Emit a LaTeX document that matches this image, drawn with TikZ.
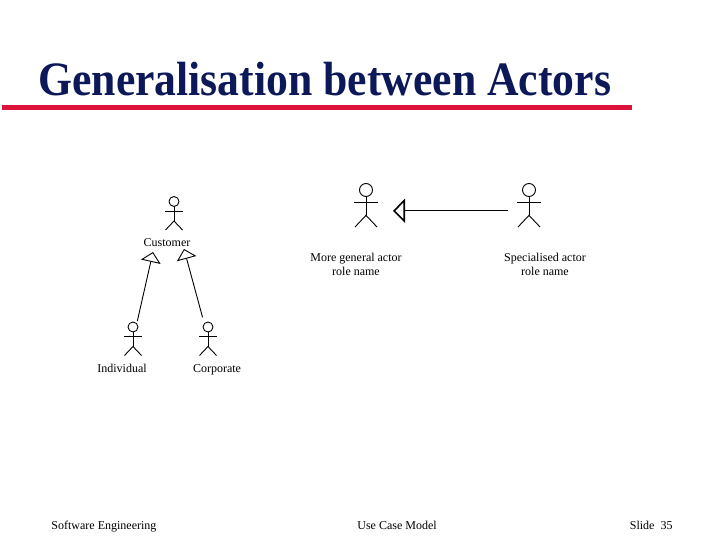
\documentclass[tikz,border=0pt]{standalone}
\usepackage{fontspec}
\setmainfont{Liberation Serif}
\usetikzlibrary{arrows.meta}
\usetikzlibrary{positioning}
\definecolor{titleblue}{RGB}{12,24,88}
\definecolor{rulered}{RGB}{220,20,60}
\tikzset{stickman/.pic = {\node [circle, draw, transform shape, inner sep = 0, minimum size = 10] (-head) at (0, 0) {};
                          \draw (-head.south) -- (0, 19.5) coordinate (-hip);
                          \draw (-9, 9.5) -- (9, 9.5);
                          \coordinate (-waist) at (0, 16);
                          \draw (-8.5, 28.5) -- (-hip) -- (8.5, 28.5);}}
\tikzset{rolename/.style = {font = \fontsize{12}{14}\selectfont, align = center, inner sep = 0}}
\tikzset{generalise/.style = {-{Triangle[open, length = 10pt, width = 20pt]}}}
\tikzset{bigarrow/.style = {-{Triangle[open, length = 12pt, width = 24pt, line width = 1.6pt]}}}

\begin{document}
\begin{tikzpicture}[x = 1pt, y = -1pt, line width = 0.9pt]
    \useasboundingbox (0, 0) rectangle (720, 540);

    % title
    \node [anchor = base west, inner sep = 0, text = titleblue,
           font = \fontsize{48}{50}\selectfont\bfseries, xscale = 0.91] (title) at (38, 96) {Generalisation between Actors};
    \fill [rulered] (2, 105) rectangle (632, 110);

    % left: customer hierarchy
    \pic (cust) at (174, 201.5) {stickman};
    \pic (indiv) at (133, 327) {stickman};
    \pic (corp) at (208, 327) {stickman};
    \node [rolename, anchor = base] (custname) at (167, 246) {Customer};
    \node [rolename, anchor = base] (indivname) at (122, 372) {Individual};
    \node [rolename, anchor = base] (corpname) at (217, 372) {Corporate};
    \coordinate (custl) at (153, 252);
    \coordinate (custr) at (184, 249);

    \draw [generalise, shorten <= 2pt] (indiv-head.north east) -- (custl);
    \draw [generalise, shorten <= 6pt] (corp-head.north west) -- (custr);

    % right: general and specialised role
    \pic [scale = 1.3] (general) at (366, 190) {stickman};
    \pic [scale = 1.3] (special) at (529, 190) {stickman};
    \node [rolename] (generalname) at (356, 264.5) {More general actor\\role name};
    \node [rolename] (specialname) at (545, 264.5) {Specialised actor\\role name};

    \draw [bigarrow, shorten <= 21pt, shorten >= 27pt] (special-waist) -- (general-waist);

    % footer
    \node [rolename, anchor = base west] (footl) at (51, 529) {Software Engineering};
    \node [rolename, anchor = base] (footm) at (397, 529) {Use Case Model};
    \node [rolename, anchor = base east] (footr) at (673, 529) {Slide\ \ 35};
\end{tikzpicture}
\end{document}
